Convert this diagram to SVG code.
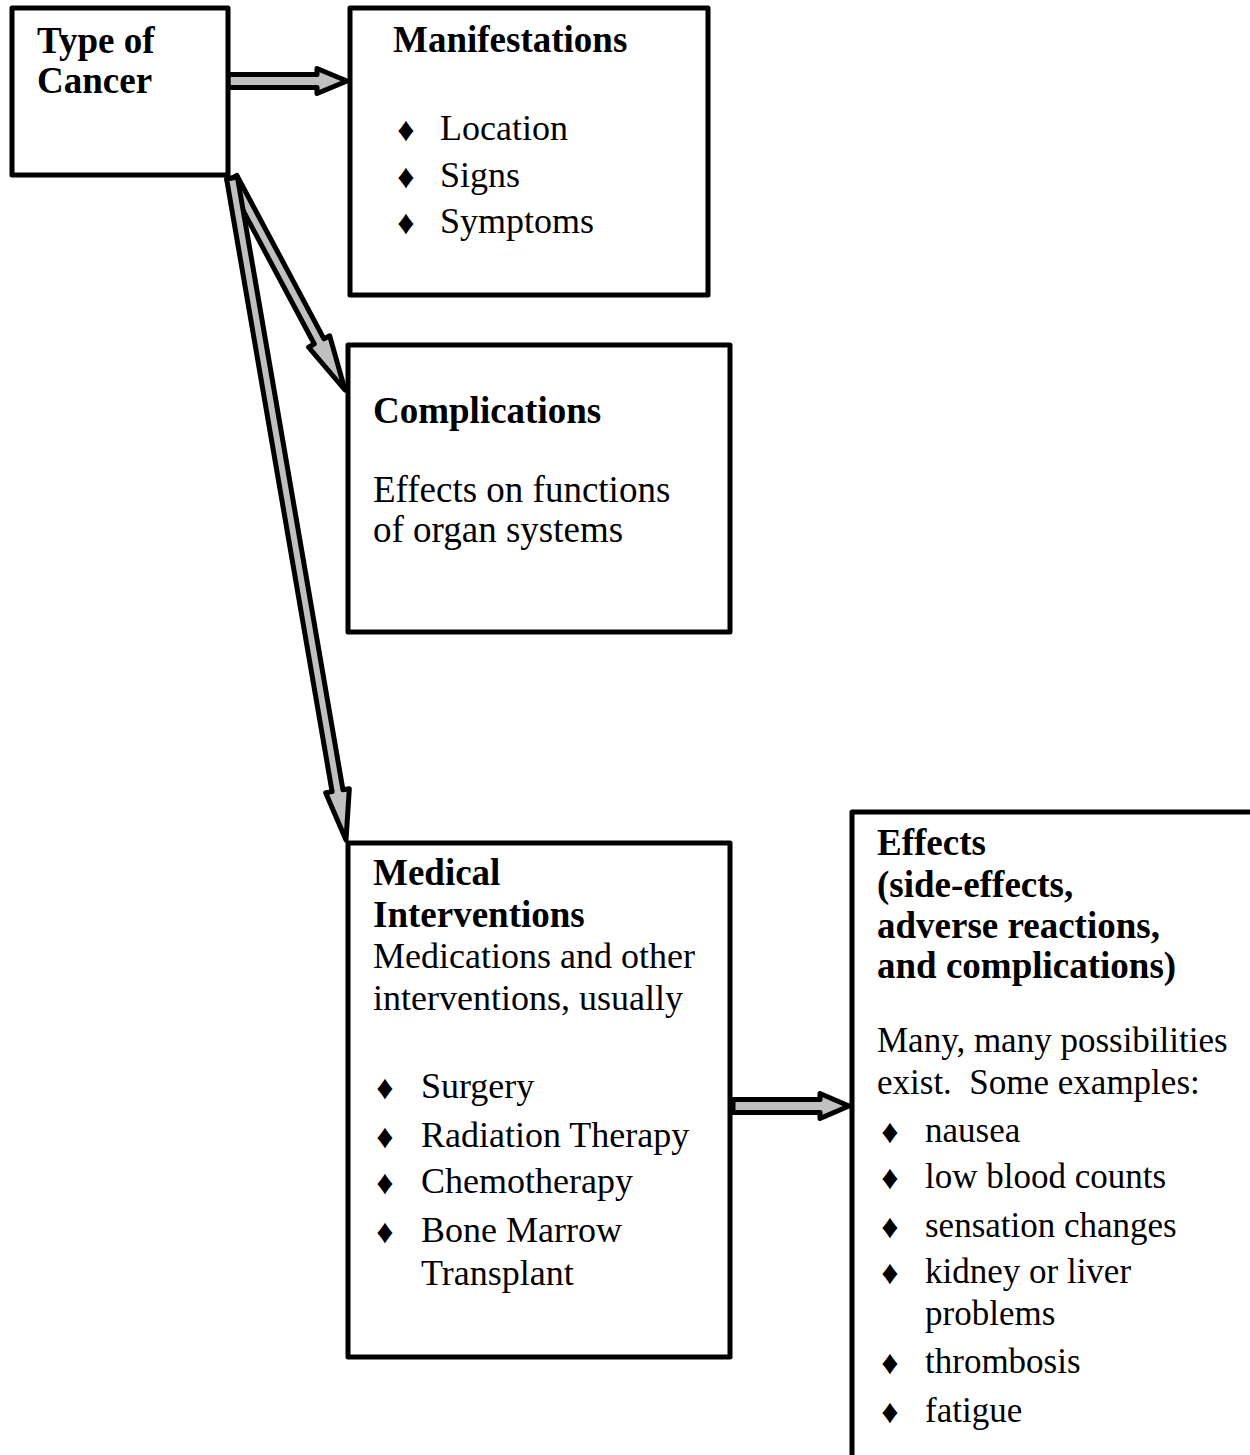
<svg xmlns="http://www.w3.org/2000/svg" width="1250" height="1455" viewBox="0 0 1250 1455">
<style>
.box{fill:#fff;stroke:#000;stroke-width:5;stroke-linejoin:round}
.arr{fill:#c0c0c0;stroke:#000;stroke-width:5;stroke-linejoin:round}
.b{font-family:"Liberation Serif","Times New Roman",serif;font-weight:bold;font-size:37px;fill:#000}
.r{font-family:"Liberation Serif","Times New Roman",serif;font-size:36px;fill:#000}
.r2{font-family:"Liberation Serif","Times New Roman",serif;font-size:35px;fill:#000}
.d{font-family:"Liberation Serif","DejaVu Sans",serif;font-size:34px;text-anchor:middle;fill:#000}
</style>
<rect width="1250" height="1455" fill="#fff"/>
<g id="connectors">
<polygon class="arr" points="228,74.5 317,74.5 317,68.5 347,81 317,93.5 317,87.5 228,87.5"/>
<polygon class="arr" points="227.15,180.59 314.28,344.05 308.54,347.1 345,390 329.72,335.82 323.98,338.87 236.85,175.41"/>
<polygon class="arr" points="226.58,178.93 332.09,791.65 325.68,792.76 346,840 349.34,788.68 342.93,789.79 237.42,177.07"/>
<polygon class="arr" points="733,1099.5 820,1099.5 820,1093.5 849,1106 820,1118.5 820,1112.5 733,1112.5"/>
</g>
<g id="type-of-cancer">
<rect class="box" x="12" y="8" width="216" height="167"/>
<text class="b" x="37" y="53">Type of</text>
<text class="b" x="37" y="93">Cancer</text>
</g>
<g id="manifestations">
<rect class="box" x="350" y="8" width="358" height="287"/>
<text class="b" x="393" y="52">Manifestations</text>
<text class="d" x="406" y="141">♦</text><text class="r" x="440" y="140">Location</text>
<text class="d" x="406" y="188">♦</text><text class="r" x="440" y="187">Signs</text>
<text class="d" x="406" y="234">♦</text><text class="r" x="440" y="233">Symptoms</text>
</g>
<g id="complications">
<rect class="box" x="348" y="345" width="382" height="287"/>
<text class="b" x="373" y="423">Complications</text>
<text class="r" x="373" y="502" style="font-size:37px">Effects on functions</text>
<text class="r" x="373" y="542" style="font-size:37px">of organ systems</text>
</g>
<g id="medical-interventions">
<rect class="box" x="348" y="843" width="382" height="514"/>
<text class="b" x="373" y="885">Medical</text>
<text class="b" x="373" y="927">Interventions</text>
<text class="r" x="373" y="968">Medications and other</text>
<text class="r" x="373" y="1010">interventions, usually</text>
<text class="d" x="385" y="1099">♦</text><text class="r" x="421" y="1098">Surgery</text>
<text class="d" x="385" y="1148">♦</text><text class="r" x="421" y="1147">Radiation Therapy</text>
<text class="d" x="385" y="1194">♦</text><text class="r" x="421" y="1193">Chemotherapy</text>
<text class="d" x="385" y="1243">♦</text><text class="r" x="421" y="1242">Bone Marrow</text>
<text class="r" x="421" y="1285">Transplant</text>
</g>
<g id="effects">
<rect class="box" x="852" y="812" width="420" height="700"/>
<text class="b" x="877" y="855">Effects</text>
<text class="b" x="877" y="897">(side-effects,</text>
<text class="b" x="877" y="938">adverse reactions,</text>
<text class="b" x="877" y="978">and complications)</text>
<text class="r2" x="877" y="1052">Many, many possibilities</text>
<text class="r2" x="877" y="1094">exist.&#160; Some examples:</text>
<text class="d" x="890" y="1143">♦</text><text class="r2" x="925" y="1142">nausea</text>
<text class="d" x="890" y="1189">♦</text><text class="r2" x="925" y="1188">low blood counts</text>
<text class="d" x="890" y="1238">♦</text><text class="r2" x="925" y="1237">sensation changes</text>
<text class="d" x="890" y="1284">♦</text><text class="r2" x="925" y="1283">kidney or liver</text>
<text class="r2" x="925" y="1325">problems</text>
<text class="d" x="890" y="1374">♦</text><text class="r2" x="925" y="1373">thrombosis</text>
<text class="d" x="890" y="1423">♦</text><text class="r2" x="925" y="1422">fatigue</text>
</g>
</svg>
